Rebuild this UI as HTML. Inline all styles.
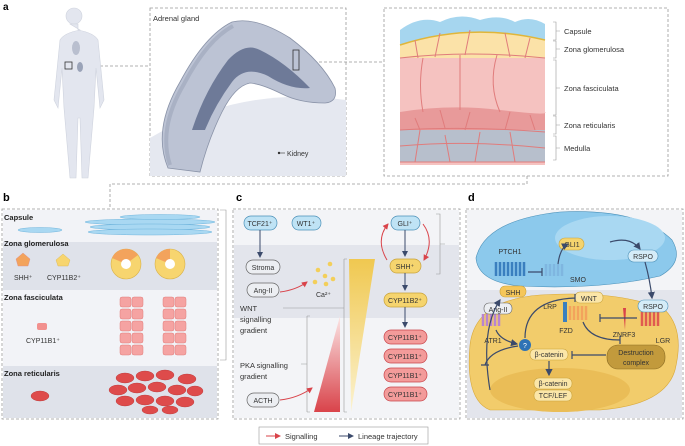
<!DOCTYPE html>
<html><head><meta charset="utf-8"><style>
html,body{margin:0;padding:0;background:#fff;}
svg{display:block;font-family:"Liberation Sans",sans-serif;}
</style></head><body>
<svg width="685" height="446" viewBox="0 0 685 446" xmlns="http://www.w3.org/2000/svg">
<defs>
<marker id="ar" markerWidth="6" markerHeight="6" refX="5" refY="3" orient="auto"><path d="M0,0 L6,3 L0,6 z" fill="#d9434a"/></marker>
<marker id="ab" markerWidth="6" markerHeight="6" refX="5" refY="3" orient="auto"><path d="M0,0 L6,3 L0,6 z" fill="#3b4a6b"/></marker>
<linearGradient id="gy" x1="0" y1="0" x2="0" y2="1"><stop offset="0" stop-color="#f0c850"/><stop offset="1" stop-color="#fbf2d0"/></linearGradient>
<linearGradient id="gr" x1="0" y1="0" x2="0" y2="1"><stop offset="0" stop-color="#fbe5e5"/><stop offset="1" stop-color="#d9434a"/></linearGradient>
</defs>
<g stroke="#999" stroke-dasharray="3,2" fill="none" stroke-width="0.8">
<rect x="150" y="8" width="196" height="168"/>
<rect x="384" y="8" width="284" height="168"/>
<path d="M80,66 H150"/><path d="M304,62 H384"/>
<path d="M527,176 V184 H110 V208"/>
<rect x="2" y="209" width="216" height="210"/>
<rect x="233" y="209" width="227" height="210"/>
<rect x="466" y="209" width="217" height="210"/>
</g>
<text x="3" y="10" font-size="10" font-weight="bold">a</text>
<text x="3" y="201" font-size="11" font-weight="bold">b</text>
<text x="236" y="201" font-size="11" font-weight="bold">c</text>
<text x="468" y="201" font-size="11" font-weight="bold">d</text>
<!-- body -->
<g fill="#e3e6ef" stroke="#cfd3de" stroke-width="0.6">
<circle cx="74" cy="16" r="8"/>
<path d="M70,24 h8 v6 q16,3 20,10 l6,60 l-4,8 l-4,-40 l-2,40 l-6,70 h-6 l-2,-60 h-2 l-2,60 h-6 l-6,-70 l-2,-40 l-4,40 l-4,-8 l6,-60 q4,-7 20,-10 z"/>
</g>
<rect x="65" y="62" width="7" height="7" fill="none" stroke="#333" stroke-width="0.8"/>
<ellipse cx="76" cy="48" rx="4" ry="7" fill="#b9bfcf"/>
<ellipse cx="80" cy="67" rx="3" ry="5" fill="#9aa3b8"/>
<!-- adrenal -->
<path d="M150,138 Q240,85 346,100 V176 H150 Z" fill="#e5e8f0"/>
<path d="M168,168 Q152,130 180,82 Q205,35 232,22 Q255,16 290,38 Q322,62 335,88 Q338,102 325,103 Q300,103 282,94 Q262,84 250,83 Q235,86 222,112 Q208,140 200,172 Z" fill="#bcc3d4" stroke="#8a93a8" stroke-width="0.8"/>
<path d="M170,165 Q158,128 184,84 Q207,40 233,26" fill="none" stroke="#a9b1c4" stroke-width="4"/>
<path d="M192,130 Q205,90 228,60 Q245,42 260,50 Q285,62 310,88 Q290,90 268,76 Q245,65 232,82 Q215,105 205,130 Z" fill="#6e7a98"/>
<rect x="293" y="50" width="6" height="20" fill="none" stroke="#333" stroke-width="0.8"/>
<text x="153" y="21" font-size="7.5" fill="#333">Adrenal gland</text>
<circle cx="279" cy="153" r="1.2" fill="#333"/><path d="M279,153 H285" stroke="#333" stroke-width="0.6"/>
<text x="287" y="156" font-size="7" fill="#333">Kidney</text>
<!-- tissue -->
<rect x="400" y="30" width="145" height="135" fill="#f5c2c0"/>
<path d="M400,30 Q420,15 440,22 Q460,12 480,20 Q500,14 515,22 Q530,15 545,24 V40 Q470,22 400,45 Z" fill="#a6d6ef"/>
<path d="M400,45 Q470,22 545,40 V58 H400 Z" fill="#fbe2a8"/>
<path d="M400,45 Q470,22 545,40" stroke="#e0b63a" stroke-width="1.5" fill="none"/>
<path d="M400,112 Q450,104 500,110 T545,112 V135 H400 Z" fill="#e89a9a"/>
<rect x="400" y="130" width="145" height="32" fill="#b7bfcc"/>
<g stroke="#e07c7c" stroke-width="1" fill="none">
<path d="M400,58 Q470,50 545,58"/><path d="M423,58 Q418,85 423,112 M460,55 V110 M497,55 Q488,85 500,112"/>
<path d="M400,130 Q470,126 545,132 M400,162 H545"/>
<path d="M415,40 L418,58 M440,33 L435,57 M470,30 L465,55 M505,33 L510,57 M530,38 L525,58"/>
<path d="M415,118 L420,130 M440,110 L445,128 M470,112 L465,130 M510,112 L505,130 M530,115 L535,130"/>
<path d="M420,130 L415,162 M445,135 L450,162 M480,132 L475,162 M510,132 L515,162 M400,146 Q470,140 545,148"/>
</g>
<g stroke="#999" stroke-width="0.6" fill="none">
<path d="M553,22 h3 v18 h-3 M553,41 h3 v17 h-3 M553,60 h3 v55 h-3 M553,116 h3 v18 h-3 M553,136 h3 v24 h-3"/>
<path d="M556,31 h4 M556,49 h4 M556,88 h4 M556,125 h4 M556,148 h4"/>
</g>
<g font-size="7.5" fill="#333">
<text x="564" y="34">Capsule</text><text x="564" y="52">Zona glomerulosa</text><text x="564" y="91">Zona fasciculata</text><text x="564" y="128">Zona reticularis</text><text x="564" y="151">Medulla</text>
</g>
<!-- panel b -->
<rect x="3" y="210" width="214" height="32" fill="#f2f3f7"/>
<rect x="3" y="242" width="214" height="48" fill="#dfe2ea"/>
<rect x="3" y="290" width="214" height="76" fill="#f2f3f7"/>
<rect x="3" y="366" width="214" height="52" fill="#dfe2ea"/>
<g font-size="7.5" font-weight="bold" fill="#222">
<text x="4" y="220">Capsule</text><text x="4" y="246">Zona glomerulosa</text><text x="4" y="300">Zona fasciculata</text><text x="4" y="376">Zona reticularis</text>
</g>
<g fill="#a9d8f2" stroke="#6fb5dd" stroke-width="0.5">
<ellipse cx="40" cy="230" rx="22" ry="2.5"/>
<ellipse cx="150" cy="222" rx="65" ry="3"/><ellipse cx="150" cy="227" rx="60" ry="3"/><ellipse cx="150" cy="232" rx="62" ry="3"/><ellipse cx="160" cy="217" rx="40" ry="2.5"/>
</g>
<path d="M16,259 l7,-6 l7,6 l-2,7 h-10 z" fill="#f3a35c" stroke="#d88" stroke-width="0.4"/>
<path d="M56,260 l7,-6 l7,6 l-2,6 h-10 z" fill="#f7d56f" stroke="#d9b24a" stroke-width="0.4"/>
<text x="14" y="280" font-size="7" fill="#333">SHH⁺</text><text x="47" y="280" font-size="7" fill="#333">CYP11B2⁺</text>
<g stroke="#d9b24a" stroke-width="0.6"><circle cx="126" cy="264" r="15" fill="#f7d56f"/><circle cx="170" cy="264" r="15" fill="#f7d56f"/></g>
<path d="M126,264 L112,258 A15,15 0 0,1 126,249 Z M170,264 L156,258 A15,15 0 0,1 170,249Z M126,264 L126,249 A15,15 0 0,1 138,255Z" fill="#f3a35c"/>
<circle cx="126" cy="264" r="5" fill="#fff"/><circle cx="170" cy="264" r="5" fill="#fff"/>
<rect x="37" y="323" width="10" height="7" rx="2" fill="#f2908e"/>
<text x="26" y="343" font-size="7" fill="#333">CYP11B1⁺</text>
<g fill="#f5a3a2" stroke="#e07c7c" stroke-width="0.5">
<rect x="120" y="297" width="11" height="10" rx="2"/><rect x="132" y="297" width="11" height="10" rx="2"/><rect x="120" y="309" width="11" height="10" rx="2"/><rect x="132" y="309" width="11" height="10" rx="2"/><rect x="120" y="321" width="11" height="10" rx="2"/><rect x="132" y="321" width="11" height="10" rx="2"/><rect x="120" y="333" width="11" height="10" rx="2"/><rect x="132" y="333" width="11" height="10" rx="2"/><rect x="120" y="345" width="11" height="10" rx="2"/><rect x="132" y="345" width="11" height="10" rx="2"/>
<rect x="163" y="297" width="11" height="10" rx="2"/><rect x="175" y="297" width="11" height="10" rx="2"/><rect x="163" y="309" width="11" height="10" rx="2"/><rect x="175" y="309" width="11" height="10" rx="2"/><rect x="163" y="321" width="11" height="10" rx="2"/><rect x="175" y="321" width="11" height="10" rx="2"/><rect x="163" y="333" width="11" height="10" rx="2"/><rect x="175" y="333" width="11" height="10" rx="2"/><rect x="163" y="345" width="11" height="10" rx="2"/><rect x="175" y="345" width="11" height="10" rx="2"/>
</g>
<g fill="#de4b4b" stroke="#b83535" stroke-width="0.4">
<ellipse cx="40" cy="396" rx="9" ry="5"/>
<ellipse cx="125" cy="378" rx="9" ry="5"/><ellipse cx="145" cy="376" rx="9" ry="5"/><ellipse cx="165" cy="375" rx="9" ry="5"/><ellipse cx="187" cy="379" rx="9" ry="5"/>
<ellipse cx="118" cy="390" rx="9" ry="5"/><ellipse cx="137" cy="388" rx="9" ry="5"/><ellipse cx="157" cy="387" rx="9" ry="5"/><ellipse cx="177" cy="390" rx="9" ry="5"/><ellipse cx="195" cy="391" rx="8" ry="5"/>
<ellipse cx="125" cy="401" rx="9" ry="5"/><ellipse cx="145" cy="400" rx="9" ry="5"/><ellipse cx="165" cy="401" rx="9" ry="5"/><ellipse cx="185" cy="402" rx="9" ry="5"/>
<ellipse cx="150" cy="410" rx="8" ry="4"/><ellipse cx="170" cy="410" rx="8" ry="4"/>
</g>
<path d="M220,210 h6 v150 h-6" stroke="#999" stroke-width="0.6" fill="none"/>
<!-- panel c -->
<rect x="234" y="245" width="225" height="73" fill="#e3e5ec"/>
<rect x="234" y="318" width="225" height="100" fill="#f3f4f7"/>
<rect x="234" y="210" width="225" height="35" fill="#f3f4f7"/>
<path d="M349,259 H375 L351,412 Z" fill="url(#gy)"/>
<path d="M340,316 L340,412 H314 Z" fill="url(#gr)"/>
<path d="M344,259 v153 M307,316 v96" stroke="#999" stroke-width="0.6" fill="none"/>
<path d="M344,259 h3 M344,412 h3 M307,316 h3 M307,412 h3" stroke="#999" stroke-width="0.6"/>
<path d="M283,308 H344 M301,364 H307" stroke="#999" stroke-width="0.6"/>
<g font-size="7.5" fill="#333">
<text x="240" y="311">WNT</text><text x="240" y="322">signalling</text><text x="240" y="333">gradient</text>
<text x="240" y="368">PKA signalling</text><text x="240" y="379">gradient</text>
</g>
<g font-size="7" text-anchor="middle" stroke-width="0.7">
<rect x="244" y="216" width="33" height="14" rx="7" fill="#bfe3f5" stroke="#4a90b8"/><text x="260" y="226" fill="#333">TCF21⁺</text>
<rect x="292" y="216" width="29" height="14" rx="7" fill="#bfe3f5" stroke="#4a90b8"/><text x="306" y="226" fill="#333">WT1⁺</text>
<rect x="391" y="216" width="29" height="14" rx="7" fill="#bfe3f5" stroke="#4a90b8"/><text x="405" y="226" fill="#333">GLI⁺</text>
<rect x="246" y="260" width="34" height="14" rx="7" fill="#eceef2" stroke="#666"/><text x="263" y="270" fill="#333">Stroma</text>
<rect x="247" y="283" width="32" height="14" rx="7" fill="#eceef2" stroke="#666"/><text x="263" y="293" fill="#333">Ang-II</text>
<rect x="247" y="393" width="32" height="14" rx="7" fill="#eceef2" stroke="#666"/><text x="263" y="403" fill="#333">ACTH</text>
<rect x="390" y="259" width="31" height="14" rx="7" fill="#f5d46e" stroke="#c9a23a"/><text x="405" y="269" fill="#333">SHH⁺</text>
<rect x="384" y="293" width="43" height="14" rx="7" fill="#f5d46e" stroke="#c9a23a"/><text x="405" y="303" fill="#333">CYP11B2⁺</text>
<rect x="384" y="330" width="43" height="14" rx="7" fill="#f39b9a" stroke="#c9444a"/><text x="405" y="340" fill="#333">CYP11B1⁺</text>
<rect x="384" y="349" width="43" height="14" rx="7" fill="#f39b9a" stroke="#c9444a"/><text x="405" y="359" fill="#333">CYP11B1⁺</text>
<rect x="384" y="368" width="43" height="14" rx="7" fill="#f39b9a" stroke="#c9444a"/><text x="405" y="378" fill="#333">CYP11B1⁺</text>
<rect x="384" y="387" width="43" height="14" rx="7" fill="#f39b9a" stroke="#c9444a"/><text x="405" y="397" fill="#333">CYP11B1⁺</text>
</g>
<g fill="#f3cf5a"><circle cx="318" cy="270" r="2.3"/><circle cx="330" cy="264" r="2.3"/><circle cx="325" cy="276" r="2.3"/><circle cx="315" cy="282" r="2.3"/><circle cx="326" cy="284" r="2.3"/><circle cx="333" cy="279" r="2.3"/></g>
<text x="316" y="297" font-size="7" fill="#333">Ca²⁺</text>
<g stroke="#3b4a6b" stroke-width="1" fill="none" marker-end="url(#ab)">
<path d="M260,230 V257"/><path d="M405,230 V256"/><path d="M405,273 V290"/><path d="M405,307 V327"/>
</g>
<g stroke="#d9434a" stroke-width="1" fill="none" marker-end="url(#ar)">
<path d="M280,292 Q296,290 307,282"/><path d="M280,400 Q298,398 312,388"/>
<path d="M387,260 Q375,240 388,224"/><path d="M423,224 Q435,240 424,260"/>
</g>
<path d="M436,214 h4 v60 h-4 M440,244 h5" stroke="#999" stroke-width="0.6" fill="none"/>
<!-- legend -->
<rect x="259" y="427" width="169" height="17" fill="#fff" stroke="#999" stroke-width="0.6"/>
<path d="M266,436 H280" stroke="#d9434a" stroke-width="1" marker-end="url(#ar)"/>
<text x="285" y="439" font-size="7.5" fill="#333">Signalling</text>
<path d="M339,436 H353" stroke="#3b4a6b" stroke-width="1" marker-end="url(#ab)"/>
<text x="358" y="439" font-size="7.5" fill="#333">Lineage trajectory</text>
<!-- panel d -->
<rect x="467" y="210" width="215" height="80" fill="#f3f4f7"/>
<rect x="467" y="290" width="215" height="128" fill="#e3e5ec"/>
<path d="M470,345 Q475,300 540,295 Q620,290 665,310 Q685,330 675,370 Q665,405 600,410 H490 Q465,400 470,345 Z" fill="#f2cc6b" stroke="#d9a93a" stroke-width="0.6"/>
<ellipse cx="560" cy="390" rx="70" ry="22" fill="#eabd57"/>
<path d="M476,258 Q485,220 560,212 Q640,208 672,240 Q685,262 660,276 Q600,290 520,286 Q478,282 476,258 Z" fill="#8cc9ec" stroke="#4a90b8" stroke-width="0.6"/>
<ellipse cx="610" cy="238" rx="55" ry="22" fill="#a9d8f2"/>
<g stroke="#3a7fbf" stroke-width="2.5" fill="none">
<path d="M496,262 v14 M500,262 v14 M504,262 v14 M508,262 v14 M512,262 v14 M516,262 v14 M520,262 v14 M524,262 v14"/>
<path d="M546,264 v12 M550,264 v12 M554,264 v12 M558,264 v12 M562,264 v12" stroke="#7fb6e0"/>
</g>
<g stroke="#b884d1" stroke-width="2.5"><path d="M483,314 v12 M487,314 v12 M491,314 v12 M495,314 v12 M499,314 v12"/></g>
<g stroke="#f3a35c" stroke-width="2.5"><path d="M570,306 v14 M574,306 v14 M578,306 v14 M582,306 v14 M586,306 v14"/></g>
<g stroke="#e05a50" stroke-width="2.5"><path d="M642,312 v14 M646,312 v14 M650,312 v14 M654,312 v14 M658,312 v14"/></g>
<rect x="563" y="302" width="4" height="20" fill="#3a7fbf"/>
<path d="M623,308 l3,0 l-1,22 z" fill="#d9434a"/>
<circle cx="525" cy="345" r="6" fill="#2f72b5"/><text x="525" y="348" font-size="7" fill="#fff" text-anchor="middle">?</text>
<g font-size="7" fill="#333" text-anchor="middle" stroke-width="0.6">
<rect x="559" y="238" width="25" height="12" rx="6" fill="#f5d46e" stroke="#c9a23a"/><text x="572" y="247">GLI1</text>
<rect x="628" y="250" width="30" height="12" rx="6" fill="#d4ecf8" stroke="#4a90b8"/><text x="643" y="259">RSPO</text>
<rect x="638" y="300" width="30" height="12" rx="6" fill="#d4ecf8" stroke="#4a90b8"/><text x="653" y="309">RSPO</text>
<rect x="500" y="286" width="26" height="11" rx="5" fill="#f5c65a" stroke="#c9a23a"/><text x="513" y="295">SHH</text>
<rect x="575" y="292" width="28" height="11" rx="5" fill="#fbe6a8" stroke="#c9a23a"/><text x="589" y="301">WNT</text>
<rect x="484" y="303" width="28" height="11" rx="5" fill="#eceef2" stroke="#666"/><text x="498" y="312">Ang-II</text>
<rect x="530" y="349" width="38" height="11" rx="5" fill="#fbe6a8" stroke="#c9a23a"/><text x="549" y="357">β-catenin</text>
<rect x="534" y="378" width="38" height="11" rx="5" fill="#fbe6a8" stroke="#c9a23a"/><text x="553" y="386">β-catenin</text>
<rect x="534" y="390" width="38" height="11" rx="5" fill="#fbe6a8" stroke="#c9a23a"/><text x="553" y="398">TCF/LEF</text>
<rect x="607" y="345" width="58" height="24" rx="11" fill="#c29a3c" stroke="#8a6a20"/><text x="636" y="355">Destruction</text><text x="636" y="365">complex</text>
<text x="510" y="254">PTCH1</text><text x="578" y="282">SMO</text><text x="550" y="309">LRP</text><text x="566" y="333">FZD</text><text x="624" y="337">ZNRF3</text><text x="663" y="343">LGR</text><text x="493" y="343">ATR1</text>
</g>
<g stroke="#3b4a6b" stroke-width="1.2" fill="none">
<path d="M558,264 Q560,248 568,244" marker-end="url(#ab)"/>
<path d="M610,242 Q630,236 640,249" marker-end="url(#ab)"/>
<path d="M645,262 Q650,280 652,298" marker-end="url(#ab)"/>
<path d="M490,390 Q480,330 500,300" marker-end="url(#ab)"/>
<path d="M496,330 Q500,340 517,344" marker-end="url(#ab)"/>
<path d="M528,272 H542 M542,268 v8"/>
<path d="M525,338 Q525,300 575,298 M575,294 v8"/>
<path d="M518,346 Q490,350 485,365 M481,365 h8"/>
<path d="M637,318 H600 M600,314 v8"/>
<path d="M606,355 H572 M572,351 v8"/>
<path d="M583,322 Q590,340 620,340 M620,336 v8"/>
<path d="M549,361 v14" marker-end="url(#ab)"/>
</g>
</svg>
</body></html>
